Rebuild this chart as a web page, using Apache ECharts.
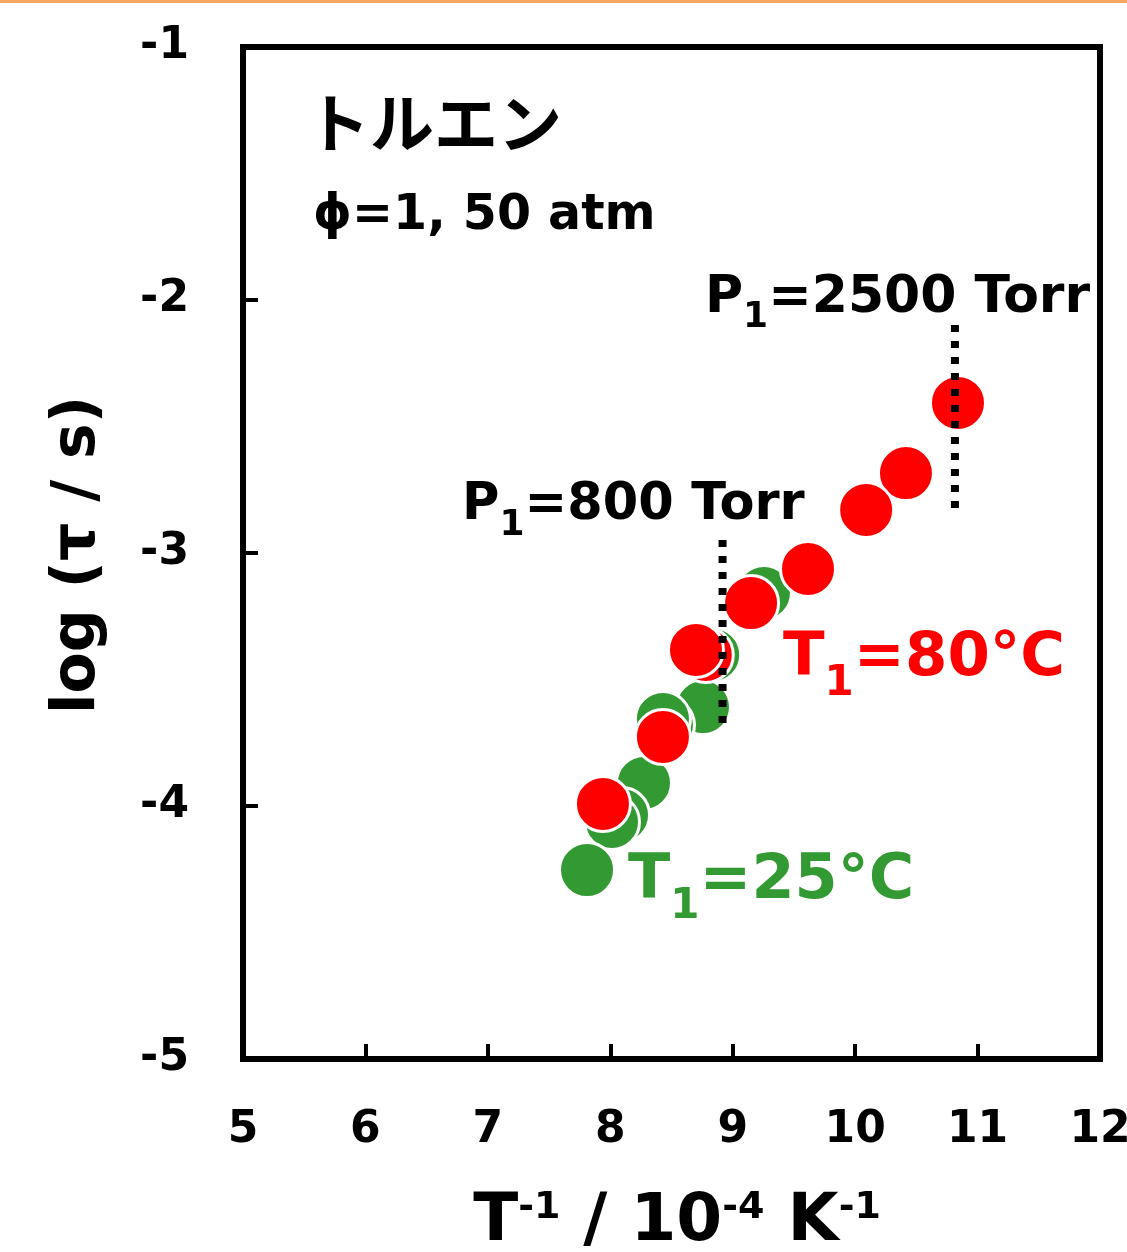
<!DOCTYPE html>
<html><head><meta charset="utf-8">
<script src="https://cdn.jsdelivr.net/npm/echarts@6/dist/echarts.min.js"></script>
<style>html,body{margin:0;padding:0;background:#fff}#c{width:1127px;height:1252px}</style>
</head><body><div id="c"></div>
<script>
// axis ticks
const xTicks = [5, 6, 7, 8, 9, 10, 11, 12];
const yTicks = [-5, -4, -3, -2, -1];
// T1 = 80°C (red), listed right-to-left so lower-left points sit on top
const redX = [10.84, 10.415, 10.09, 9.615, 9.15, 8.78, 8.70, 8.43, 7.94];
const redY = [-2.407, -2.684, -2.830, -3.063, -3.198, -3.403, -3.383, -3.727, -3.992];
// T1 = 25°C (green)
const greenX = [9.255, 8.84, 8.757, 8.463, 8.43, 8.275, 8.096, 8.014, 7.81];
const greenY = [-3.158, -3.403, -3.609, -3.680, -3.656, -3.909, -4.036, -4.063, -4.253];
// dotted markers for P1
const p800X = [8.917, 8.917];
const p800Y = [-2.949, -3.680];
const p2500X = [10.815, 10.815];
const p2500Y = [-2.099, -2.830];

const zip = (a, b) => a.map((v, i) => [v, b[i]]);
const FF = "'DejaVu Sans', Verdana, sans-serif";
const JP = "'Noto Sans CJK JP', 'DejaVu Sans', sans-serif";

function rt(text, rich, x, y, color, align) {
  return {
    type: 'text', x: x, y: y, z: 100,
    style: { text: text, rich: rich, fill: color, align: align || 'left', verticalAlign: 'middle',
      fontFamily: FF, fontWeight: 'bold' }
  };
}
function subRich(main, sub, shift, color) {
  return {
    m: { fontSize: main, lineHeight: 120, fontFamily: FF, fontWeight: 'bold', fill: color },
    s: { fontSize: sub, lineHeight: 120, fontFamily: FF, fontWeight: 'bold', fill: color, padding: [shift * 2, 0, 0, 0] }
  };
}

const chart = echarts.init(document.getElementById('c'), null, { renderer: 'canvas' });
chart.setOption({
  animation: false,
  backgroundColor: '#fff',
  grid: { left: 243, top: 47, width: 857, height: 1012, outerBoundsMode: 'none', containLabel: false,
    show: true, borderColor: '#000', borderWidth: 6, backgroundColor: 'transparent' },
  xAxis: {
    type: 'value', min: xTicks[0], max: xTicks[xTicks.length - 1], interval: 1,
    axisLine: { show: true, lineStyle: { color: '#000', width: 6 } },
    axisTick: { show: true, inside: true, length: 15, lineStyle: { color: '#000', width: 4 } },
    axisLabel: { margin: 50, fontSize: 44, fontWeight: 'bold', color: '#000', fontFamily: FF, showMinLabel: true, showMaxLabel: true },
    splitLine: { show: false }
  },
  yAxis: {
    type: 'value', min: yTicks[0], max: yTicks[yTicks.length - 1], interval: 1,
    axisLine: { show: true, lineStyle: { color: '#000', width: 6 } },
    axisTick: { show: true, inside: true, length: 15, lineStyle: { color: '#000', width: 4 } },
    axisLabel: { margin: 54, fontSize: 44, fontWeight: 'bold', color: '#000', fontFamily: FF, showMinLabel: true, showMaxLabel: true },
    splitLine: { show: false }
  },
  series: [
    { type: 'scatter', name: 'T1=25°C', data: zip(greenX, greenY), symbolSize: 55, z: 2,
      itemStyle: { color: '#339933', borderColor: '#fff', borderWidth: 3, opacity: 1 } },
    { type: 'scatter', name: 'T1=80°C', data: zip(redX, redY), symbolSize: 55, z: 3,
      itemStyle: { color: '#ff0000', borderColor: '#fff', borderWidth: 3, opacity: 1 } },
    { type: 'line', data: zip(p800X, p800Y), symbol: 'none', z: 4,
      lineStyle: { color: '#000', width: 8, type: [7, 9], cap: 'butt' } },
    { type: 'line', data: zip(p2500X, p2500Y), symbol: 'none', z: 4,
      lineStyle: { color: '#000', width: 8, type: [7, 9], cap: 'butt' } }
  ],
  graphic: [
    { type: 'rect', shape: { x: 0, y: 0, width: 1127, height: 3 }, style: { fill: '#F5A662' }, z: 100 },
    { type: 'text', x: 306, y: 123, z: 100,
      style: { text: 'トルエン', fontFamily: JP, fontWeight: 'bold', fontSize: 64, fill: '#000', align: 'left', verticalAlign: 'middle' } },
    { type: 'text', x: 313, y: 216, z: 100,
      style: { text: 'ϕ=1, 50 atm', fontFamily: FF, fontWeight: 'bold', fontSize: 49, fill: '#000', align: 'left', verticalAlign: 'middle' } },
    rt('{m|P}{s|1}{m|=2500 Torr}', subRich(52, 36, 20, '#000'), 705, 298, '#000'),
    rt('{m|P}{s|1}{m|=800 Torr}', subRich(51, 36, 20, '#000'), 462, 506, '#000'),
    rt('{m|T}{s|1}{m|=80°C}', subRich(61, 42, 25, '#ff0000'), 783, 659, '#ff0000'),
    rt('{m|T}{s|1}{m|=25°C}', subRich(62, 42, 25, '#339933'), 628, 882, '#339933'),
    rt('{m|T}{p|-1}{m| / 10}{p|-4}{m| K}{p|-1}', {
        m: { fontSize: 66, lineHeight: 120, fontFamily: FF, fontWeight: 'bold', fill: '#000' },
        p: { fontSize: 38, lineHeight: 120, fontFamily: FF, fontWeight: 'bold', fill: '#000', padding: [0, 0, 30, 0] }
      }, 677, 1223, '#000', 'center'),
    { type: 'text', x: 78, y: 555, rotation: Math.PI / 2, z: 100,
      style: { text: 'log (τ / s)', fontFamily: FF, fontWeight: 'bold', fontSize: 60, fill: '#000', align: 'center', verticalAlign: 'middle' } }
  ]
});
</script>
</body></html>
